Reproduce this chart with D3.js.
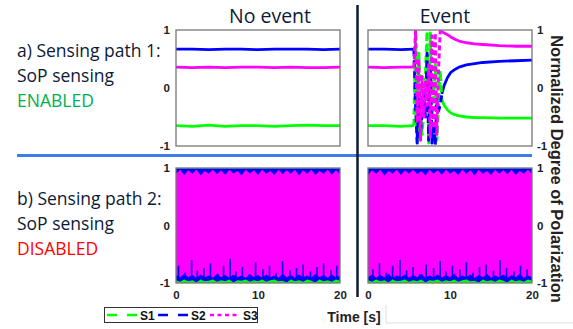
<!DOCTYPE html>
<html>
<head>
<meta charset="utf-8">
<script src="https://cdn.jsdelivr.net/npm/d3@7"></script>
<style>
  body { margin: 0; background: #fff; }
  svg { display: block; }
</style>
</head>
<body>
<div id="chart"></div>
<script>
// --- data ---
const columnTitles = ["No event", "Event"];
const seriesNames = ["S1", "S2", "S3"];
const seriesColors = ["#00ff00", "#0000ff", "#ff00ff"];
const yTicks = [-1, 0, 1];
const xTicks = [0, 10, 20];

// sensing path 1, no event: flat traces
const flatT = [0, 2, 4, 6, 8, 10, 12, 14, 16, 18, 20];
const flatS1 = [-0.65, -0.66, -0.64, -0.66, -0.65, -0.65, -0.66, -0.65, -0.64, -0.65, -0.65];
const flatS2 = [0.67, 0.67, 0.66, 0.67, 0.67, 0.66, 0.67, 0.67, 0.67, 0.66, 0.67];
const flatS3 = [0.36, 0.35, 0.36, 0.35, 0.36, 0.36, 0.35, 0.36, 0.35, 0.35, 0.36];

// sensing path 1, event: before / during / after
const preT = [0, 2, 4, 5.6];
const preS1 = [-0.65, -0.65, -0.66, -0.65];
const preS2 = [0.67, 0.67, 0.66, 0.67];
const preS3 = [0.36, 0.35, 0.36, 0.36];

const oscT = [5.6, 5.8, 6.0, 6.2, 6.4, 6.6, 6.8, 7.0, 7.2, 7.4, 7.6, 7.8, 8.0, 8.2, 8.4, 8.6, 8.8, 9.0];
const oscS1 = [-0.65, 0.9, -0.95, 0.6, -0.3, -0.8, -0.4, 0.2, 0.98, -0.95, 0.95, -0.5, -0.2, 0.4, -0.9, -0.3, 0.3, -0.2];
const oscS2 = [0.67, -0.3, -0.95, -0.2, -0.8, -0.4, -0.1, -0.5, 0.6, -0.9, 0.3, -0.95, -0.6, -0.98, -0.2, -0.4, -0.3, -0.1];
const oscS3 = [0.36, 0.98, -0.6, 0.5, -0.9, 0.2, -0.5, 0.1, -0.3, 0.4, -0.85, 0.9, -0.7, 0.95, -0.8, 0.3, 0.98, 0.97];

const postT = [9.0, 9.3, 9.7, 10.1, 10.6, 11.1, 12, 13, 14, 16, 18, 20];
const postS1 = [-0.2, -0.3, -0.38, -0.43, -0.46, -0.48, -0.5, -0.51, -0.51, -0.52, -0.52, -0.52];
const postS2 = [-0.1, 0.05, 0.18, 0.27, 0.32, 0.36, 0.4, 0.42, 0.44, 0.46, 0.47, 0.48];
const postS3 = [0.97, 0.95, 0.92, 0.88, 0.84, 0.81, 0.78, 0.76, 0.75, 0.73, 0.72, 0.72];

// sensing path 2: traces swing over the full range, drawn as their envelopes
const bandT = [0, 0.5, 1, 1.5, 2, 2.5, 3, 3.5, 4, 4.5, 5, 5.5, 6, 6.5, 7, 7.5, 8, 8.5, 9, 9.5, 10,
  10.5, 11, 11.5, 12, 12.5, 13, 13.5, 14, 14.5, 15, 15.5, 16, 16.5, 17, 17.5, 18, 18.5, 19, 19.5, 20];
const bandS3TopA = [0.9, 0.97, 0.88, 0.96, 0.9, 0.97, 0.87, 0.95, 0.9, 0.97, 0.89, 0.96, 0.88, 0.97, 0.9, 0.95, 0.87, 0.97, 0.9, 0.96, 0.88,
  0.97, 0.9, 0.95, 0.88, 0.97, 0.89, 0.96, 0.9, 0.97, 0.87, 0.96, 0.9, 0.97, 0.88, 0.95, 0.9, 0.97, 0.88, 0.96, 0.9];
const bandS3BotA = [-0.86, -0.9, -0.84, -0.9, -0.86, -0.91, -0.85, -0.9, -0.87, -0.91, -0.84, -0.9, -0.86, -0.91, -0.85, -0.9, -0.87, -0.91, -0.84, -0.9, -0.86,
  -0.91, -0.85, -0.9, -0.87, -0.91, -0.84, -0.9, -0.86, -0.91, -0.85, -0.9, -0.87, -0.91, -0.84, -0.9, -0.86, -0.91, -0.85, -0.9, -0.87];
const bandS3TopB = [0.88, 0.96, 0.9, 0.97, 0.87, 0.95, 0.9, 0.97, 0.88, 0.96, 0.9, 0.97, 0.89, 0.95, 0.87, 0.97, 0.9, 0.96, 0.88, 0.97, 0.9,
  0.95, 0.88, 0.97, 0.9, 0.96, 0.87, 0.97, 0.9, 0.95, 0.88, 0.97, 0.9, 0.96, 0.89, 0.97, 0.88, 0.95, 0.9, 0.97, 0.9];
const bandS3BotB = [-0.9, -0.85, -0.91, -0.86, -0.9, -0.84, -0.91, -0.87, -0.9, -0.85, -0.91, -0.86, -0.9, -0.84, -0.91, -0.87, -0.9, -0.85, -0.91, -0.86, -0.9,
  -0.84, -0.91, -0.87, -0.9, -0.85, -0.91, -0.86, -0.9, -0.84, -0.91, -0.87, -0.9, -0.85, -0.91, -0.86, -0.9, -0.84, -0.91, -0.87, -0.9];
const bandS2Bot = [-0.95, -0.98, -0.94, -0.97, -0.95, -0.99, -0.94, -0.97, -0.96, -0.94, -0.98, -0.95, -0.97, -0.94, -0.99, -0.95, -0.96, -0.94, -0.98, -0.95, -0.97,
  -0.94, -0.98, -0.95, -0.94, -0.97, -0.96, -0.99, -0.94, -0.97, -0.95, -0.98, -0.94, -0.96, -0.99, -0.94, -0.97, -0.95, -0.98, -0.94, -0.96];
// S2 spikes poking up through the S3 envelope near -1
const spikeTA = [0.3, 1.1, 1.9, 2.6, 3.4, 4.2, 5.1, 5.8, 6.6, 7.3, 8.1, 9.0, 9.7, 10.6, 11.4, 12.2, 13.0, 13.9, 14.7, 15.5, 16.4, 17.2, 18.0, 18.9, 19.6];
const spikeVA = [-0.7, -0.82, -0.6, -0.78, -0.74, -0.66, -0.84, -0.7, -0.58, -0.8, -0.72, -0.86, -0.64, -0.76, -0.7, -0.82, -0.62, -0.78, -0.74, -0.68, -0.8, -0.72, -0.66, -0.78, -0.7];
const spikeTB = [0.6, 1.4, 2.2, 3.0, 3.9, 4.7, 5.5, 6.3, 7.1, 8.0, 8.8, 9.5, 10.3, 11.2, 12.0, 12.8, 13.6, 14.4, 15.3, 16.1, 16.9, 17.8, 18.6, 19.4];
const spikeVB = [-0.76, -0.66, -0.82, -0.7, -0.6, -0.78, -0.72, -0.84, -0.68, -0.74, -0.62, -0.8, -0.7, -0.76, -0.64, -0.82, -0.72, -0.68, -0.78, -0.6, -0.74, -0.8, -0.7, -0.76];

// --- layout ---
const W = 573, H = 329;
const colX = [[176, 340], [368, 532]];
const rowY = [[30, 146], [168, 283]];
const navy = "#0c1a36";
const tickFont = "'Liberation Sans', Arial, sans-serif";
const textFont = "'Open Sans', 'Noto Sans', sans-serif";

const svg = d3.select("#chart").append("svg")
  .attr("width", W).attr("height", H);

const defs = svg.append("defs");

function panel(r, c) {
  const x = d3.scaleLinear().domain([0, 20]).range(colX[c]);
  const y = d3.scaleLinear().domain([-1, 1]).range([rowY[r][1], rowY[r][0]]);
  const id = `clip-${r}-${c}`;
  defs.append("clipPath").attr("id", id).append("rect")
    .attr("x", colX[c][0]).attr("y", rowY[r][0])
    .attr("width", colX[c][1] - colX[c][0]).attr("height", rowY[r][1] - rowY[r][0]);
  const g = svg.append("g");
  const plot = g.append("g").attr("clip-path", `url(#${id})`);
  return { x, y, g, plot };
}

function drawLine(p, ts, vs, color, dash, width) {
  const line = d3.line().x(d => p.x(d[0])).y(d => p.y(d[1]));
  p.plot.append("path")
    .attr("d", line(ts.map((t, i) => [t, vs[i]])))
    .attr("fill", "none").attr("stroke", color)
    .attr("stroke-width", width || 2.8)
    .attr("stroke-dasharray", dash || null)
    .attr("stroke-linejoin", "round");
}

function drawBand(p, ts, lo, hi, color) {
  const area = d3.area()
    .x(d => p.x(d[0])).y0(d => p.y(d[1])).y1(d => p.y(d[2]));
  p.plot.append("path")
    .attr("d", area(ts.map((t, i) => [t, lo[i], hi[i]])))
    .attr("fill", color);
}

function styleTicks(sel) {
  sel.select(".domain").remove();
  sel.selectAll("text").attr("font-family", tickFont).attr("font-weight", "bold")
    .attr("font-size", 11.5).attr("fill", "#222");
}

function frame(p, r, c) {
  const axis = c === 0 ? d3.axisLeft(p.y) : d3.axisRight(p.y);
  p.g.append("g")
    .attr("transform", `translate(${c === 0 ? colX[c][0] : colX[c][1]},0)`)
    .call(axis.tickValues(yTicks).tickSize(0).tickPadding(c === 0 ? 6 : 5).tickFormat(d => String(d)))
    .call(styleTicks);
  if (r === 1) {
    p.g.append("g").attr("transform", `translate(0,${rowY[r][1]})`)
      .call(d3.axisBottom(p.x).tickValues(xTicks).tickSize(0).tickPadding(8).tickFormat(d => String(d)))
      .call(styleTicks);
  }
  p.g.append("rect")
    .attr("x", colX[c][0]).attr("y", rowY[r][0])
    .attr("width", colX[c][1] - colX[c][0]).attr("height", rowY[r][1] - rowY[r][0])
    .attr("fill", "none").attr("stroke", "#777").attr("stroke-width", 1.3);
}

// row 1, no event
const p00 = panel(0, 0);
drawLine(p00, flatT, flatS1, seriesColors[0]);
drawLine(p00, flatT, flatS2, seriesColors[1]);
drawLine(p00, flatT, flatS3, seriesColors[2]);
frame(p00, 0, 0);

// row 1, event
const p01 = panel(0, 1);
[[preS1, postS1], [preS2, postS2], [preS3, postS3]].forEach((s, i) => {
  drawLine(p01, preT, s[0], seriesColors[i]);
  drawLine(p01, postT, s[1], seriesColors[i]);
});
[oscS1, oscS2, oscS3].forEach((s, i) => {
  drawLine(p01, oscT, s, seriesColors[i], i === 2 ? "5,3" : "7,4", 3);
});
frame(p01, 0, 1);

// row 2, both columns
[[bandS3TopA, bandS3BotA, spikeTA, spikeVA], [bandS3TopB, bandS3BotB, spikeTB, spikeVB]].forEach((b, c) => {
  const p = panel(1, c);
  drawBand(p, bandT, bandT.map(() => -1), bandT.map(() => 1), seriesColors[0]);
  drawBand(p, bandT, bandS2Bot, bandT.map(() => 0.99), seriesColors[1]);
  drawBand(p, bandT, b[1], b[0], seriesColors[2]);
  p.plot.selectAll(".spike").data(b[2]).join("line").attr("class", "spike")
    .attr("x1", d => p.x(d)).attr("x2", d => p.x(d))
    .attr("y1", p.y(-0.93)).attr("y2", (d, i) => p.y(b[3][i]))
    .attr("stroke", seriesColors[1]).attr("stroke-width", 1.6);
  frame(p, 1, c);
});

// separators
svg.append("line").attr("x1", 17).attr("x2", 532).attr("y1", 155.5).attr("y2", 155.5)
  .attr("stroke", "#3b7df2").attr("stroke-width", 3);
svg.append("line").attr("x1", 357.5).attr("x2", 357.5).attr("y1", 5).attr("y2", 297)
  .attr("stroke", navy).attr("stroke-width", 2.5);

// column titles
const titleX = [270, 445];
columnTitles.forEach((t, c) => {
  svg.append("text").attr("x", titleX[c]).attr("y", 23)
    .attr("text-anchor", "middle").attr("font-family", textFont)
    .attr("font-size", 19.5).attr("fill", navy).text(t);
});

// row labels
const rowLabels = [
  ["a) Sensing path 1:", "SoP sensing", "ENABLED", "#00b050", 57],
  ["b) Sensing path 2:", "SoP sensing", "DISABLED", "#ff0000", 205]
];
rowLabels.forEach(l => {
  const g = svg.append("g").attr("font-family", textFont).attr("font-size", 17.5);
  g.append("text").attr("x", 17).attr("y", l[4]).attr("fill", navy).text(l[0]);
  g.append("text").attr("x", 17).attr("y", l[4] + 25).attr("fill", navy).text(l[1]);
  g.append("text").attr("x", 17).attr("y", l[4] + 50).attr("fill", l[3]).text(l[2]);
});

// right axis title
svg.append("text").attr("transform", "translate(551,169) rotate(90)")
  .attr("text-anchor", "middle").attr("font-family", tickFont).attr("font-weight", "bold")
  .attr("font-size", 16.5).attr("fill", "#222").text("Normalized Degree of Polarization");

// x axis title
svg.append("text").attr("x", 354).attr("y", 322).attr("text-anchor", "middle")
  .attr("font-family", tickFont).attr("font-weight", "bold").attr("font-size", 14)
  .attr("fill", "#222").text("Time [s]");
svg.append("path").attr("d", "M386,305V323H573").attr("fill", "none")
  .attr("stroke", "#ddd").attr("stroke-width", 1);

// legend
const leg = svg.append("g");
leg.append("rect").attr("x", 104.5).attr("y", 307.5).attr("width", 153).attr("height", 15)
  .attr("fill", "#fff").attr("stroke", "#333").attr("stroke-width", 1);
const legX = [107, 158, 210];
seriesNames.forEach((n, i) => {
  leg.append("line").attr("x1", legX[i]).attr("x2", legX[i] + 30).attr("y1", 315).attr("y2", 315)
    .attr("stroke", seriesColors[i]).attr("stroke-width", 2.5)
    .attr("stroke-dasharray", i === 2 ? "4,3.5" : "10,10");
  leg.append("text").attr("x", legX[i] + 33).attr("y", 319.5)
    .attr("font-family", tickFont).attr("font-weight", "bold").attr("font-size", 12)
    .attr("fill", "#111").text(n);
});
</script>
</body>
</html>
